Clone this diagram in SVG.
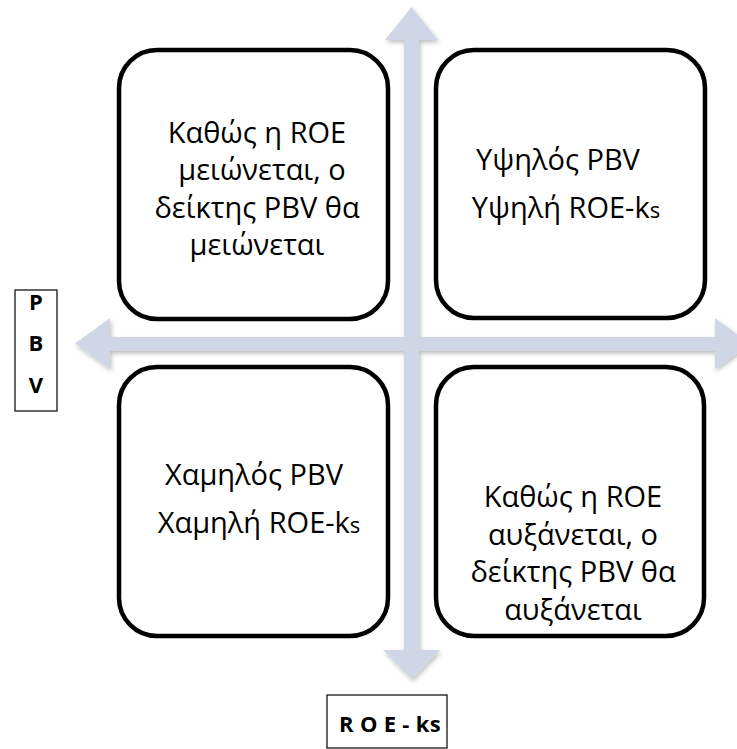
<svg xmlns="http://www.w3.org/2000/svg" width="737" height="749" viewBox="0 0 737 749">
<style>
.box{fill:#fff;stroke:#000;stroke-width:4.5}
.t{font-family:"Open Sans","Noto Sans",sans-serif;font-size:29px;fill:#000;text-anchor:middle}
.lab{fill:#fff;stroke:#000;stroke-width:1.2}
.b{font-family:"Open Sans","Noto Sans",sans-serif;font-weight:bold;font-size:22px;fill:#000;text-anchor:middle}
.arr{fill:#cfd7e6}
</style>
<defs>
<filter id="sh" x="-10%" y="-10%" width="120%" height="120%">
<feDropShadow dx="1.5" dy="2.5" stdDeviation="2" flood-color="#000" flood-opacity="0.25"/>
</filter>
</defs>
<rect width="737" height="749" fill="#fff"/>
<g id="axes" filter="url(#sh)">
<path class="arr" d="M411.5,7 L438,40 L419,40 L419,650 L440,650 L411.5,679 L383,650 L404,650 L404,40 L385,40 Z"/>
<path class="arr" d="M75,343.5 L110,318 L110,337 L715,337 L715,318 L750,343.5 L715,369 L715,351 L110,351 L110,369 Z"/>
</g>
<g id="box-tl">
<rect class="box" x="119" y="50" width="269" height="269" rx="38"/>
<text class="t" x="257" y="143">Καθώς η ROE</text>
<text class="t" x="262" y="180">μειώνεται, ο</text>
<text class="t" x="257" y="218">δείκτης PBV θα</text>
<text class="t" x="257" y="255">μειώνεται</text>
</g>
<g id="box-tr">
<rect class="box" x="436" y="50" width="269" height="268" rx="38"/>
<text class="t" x="558" y="170">Υψηλός PBV</text>
<text class="t" x="566" y="218">Υψηλή ROE-k<tspan font-size="22">s</tspan></text>
</g>
<g id="box-bl">
<rect class="box" x="119" y="367" width="269" height="269" rx="38"/>
<text class="t" x="254" y="485">Χαμηλός PBV</text>
<text class="t" x="259" y="533">Χαμηλή ROE-k<tspan font-size="22">s</tspan></text>
</g>
<g id="box-br">
<rect class="box" x="436" y="367" width="268" height="269" rx="38"/>
<text class="t" x="573" y="507">Καθώς η ROE</text>
<text class="t" x="573" y="545">αυξάνεται, ο</text>
<text class="t" x="573" y="582">δείκτης PBV θα</text>
<text class="t" x="573" y="620">αυξάνεται</text>
</g>
<g id="label-pbv">
<rect class="lab" x="15" y="290" width="42" height="121"/>
<text class="b" x="36" y="310" font-size="23">P</text>
<text class="b" x="36" y="351" font-size="23">B</text>
<text class="b" x="36" y="393" font-size="23">V</text>
</g>
<g id="label-roe">
<rect class="lab" x="327" y="695" width="120" height="53"/>
<text class="b" x="390" y="732" font-size="22" letter-spacing="0.3">R O E - ks</text>
</g>
</svg>
